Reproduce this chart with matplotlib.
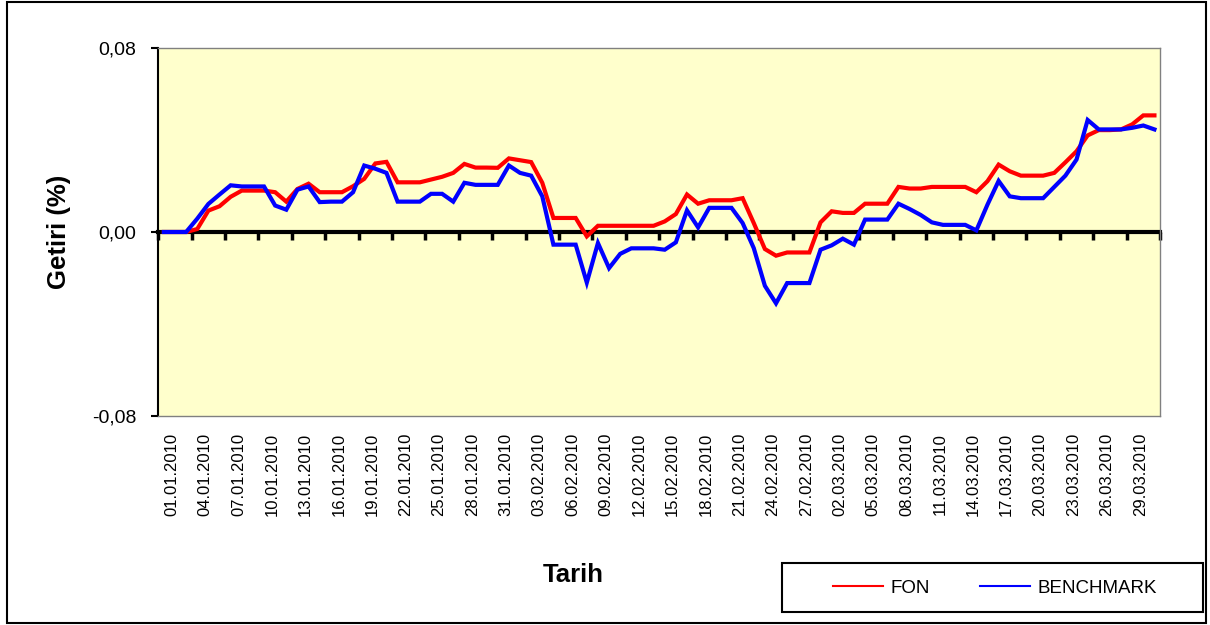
import numpy as np
import pandas as pd
import matplotlib
matplotlib.use("Agg")
import matplotlib.pyplot as plt
import matplotlib.transforms as mtransforms
from matplotlib.lines import Line2D
from matplotlib.patches import Rectangle

plt.rcParams["font.family"] = ["Liberation Sans", "DejaVu Sans"]

# --- daily categories 01.01.2010 - 31.03.2010 ---
dates = pd.date_range("2010-01-01", "2010-03-31", freq="D")
date_labels = [d.strftime("%d.%m.%Y") for d in dates]

# --- cumulative return values ---
fon = [
    0.0, 0.0, 0.0, 0.0013, 0.0093, 0.0112, 0.0153, 0.0180, 0.0180, 0.0180,
    0.0173, 0.0132, 0.0187, 0.0210, 0.0173, 0.0173, 0.0173, 0.0199, 0.0231, 0.0298,
    0.0305, 0.0216, 0.0216, 0.0216, 0.0228, 0.0240, 0.0257, 0.0296, 0.0280, 0.0280,
    0.0279, 0.0320, 0.0312, 0.0304, 0.0214, 0.0061, 0.0061, 0.0061, -0.0019, 0.0027,
    0.0027, 0.0027, 0.0027, 0.0027, 0.0027, 0.0046, 0.0078, 0.0163, 0.0123, 0.0138,
    0.0138, 0.0138, 0.0147, 0.0039, -0.0074, -0.0103, -0.0089, -0.0089, -0.0089, 0.0042,
    0.0090, 0.0083, 0.0083, 0.0123, 0.0123, 0.0123, 0.0196, 0.0189, 0.0189, 0.0196,
    0.0196, 0.0196, 0.0196, 0.0173, 0.0221, 0.0293, 0.0264, 0.0245, 0.0245, 0.0245,
    0.0257, 0.0303, 0.0351, 0.0420, 0.0443, 0.0443, 0.0446, 0.0468, 0.0507, 0.0507,
]
benchmark = [
    0.0, 0.0, 0.0, 0.0058, 0.0122, 0.0163, 0.0203, 0.0198, 0.0198, 0.0198,
    0.0115, 0.0097, 0.0184, 0.0198, 0.0130, 0.0132, 0.0132, 0.0173, 0.0289, 0.0275,
    0.0257, 0.0132, 0.0132, 0.0132, 0.0166, 0.0166, 0.0132, 0.0214, 0.0205, 0.0205,
    0.0205, 0.0289, 0.0257, 0.0245, 0.0155, -0.0055, -0.0055, -0.0055, -0.0220, -0.0048,
    -0.0157, -0.0095, -0.0071, -0.0071, -0.0071, -0.0077, -0.0045, 0.0094, 0.0020, 0.0105,
    0.0105, 0.0105, 0.0039, -0.0070, -0.0234, -0.0310, -0.0222, -0.0222, -0.0222, -0.0077,
    -0.0058, -0.0029, -0.0055, 0.0054, 0.0054, 0.0054, 0.0123, 0.0100, 0.0074, 0.0042,
    0.0031, 0.0031, 0.0031, 0.0007, 0.0119, 0.0222, 0.0155, 0.0147, 0.0147, 0.0147,
    0.0196, 0.0245, 0.0315, 0.0487, 0.0446, 0.0446, 0.0446, 0.0453, 0.0463, 0.0446,
]

x = np.arange(len(dates))

fig = plt.figure(figsize=(12.1, 6.25), dpi=100)
ax = fig.add_axes([158.3 / 1210, 1 - 416 / 625, (1160 - 158.3) / 1210, (416 - 48) / 625])
ax.set_facecolor("#FFFFCC")

ax.plot(x, fon, color="#FF0000", lw=3, solid_joinstyle="miter", zorder=3)
ax.plot(x, benchmark, color="#0000FF", lw=3, solid_joinstyle="miter", zorder=3)

ax.set_xlim(-0.5, len(dates) - 0.5)
ax.set_ylim(-0.08, 0.08)

# y axis
ax.set_yticks([-0.08, 0.0, 0.08])
ax.set_yticklabels(["-0,08", "0,00", "0,08"], fontsize=14)
ax.tick_params(axis="y", direction="out", length=5, width=1.5, pad=11)

# date labels at the bottom
ax.set_xticks(x[::3])
ax.set_xticklabels(date_labels[::3], rotation=90, fontsize=12)
ax.tick_params(axis="x", length=0, pad=12)
shift = mtransforms.ScaledTranslation(8 / 100, 0, fig.dpi_scale_trans)
for lbl in ax.get_xticklabels():
    lbl.set_transform(lbl.get_transform() + shift)

for s in ["top", "right", "bottom"]:
    ax.spines[s].set_color("#808080")
    ax.spines[s].set_linewidth(1)
ax.spines["left"].set_color("black")
ax.spines["left"].set_linewidth(1.5)

# zero axis line with tick marks between categories
zax = ax.secondary_xaxis(0.5)
zax.set_xticks(np.arange(-0.5, len(dates), 3))
zax.set_xticklabels([])
zax.tick_params(axis="x", which="both", top=True, bottom=False, direction="in",
                length=6, width=2.5, color="black")
for s in ["top", "bottom"]:
    zax.spines[s].set_linewidth(3)
    zax.spines[s].set_color("black")
zax.set_zorder(1)

fig.text(59 / 1210, 1 - 232 / 625, "Getiri (%)", rotation=90, fontsize=18.5,
         fontweight="bold", ha="center", va="center")
fig.text(573 / 1210, 1 - 575 / 625, "Tarih", fontsize=18.5, fontweight="bold",
         ha="center", va="center")

# legend
handles = [Line2D([], [], color="#FF0000", lw=1.5), Line2D([], [], color="#0000FF", lw=1.5)]
fig.legend(handles, ["FON", "BENCHMARK"], loc="center", ncol=2, frameon=False,
           bbox_to_anchor=(995 / 1210, 1 - 588 / 625), fontsize=13.5,
           handlelength=2.67, handletextpad=0.4, columnspacing=2.7)
fig.patches.append(Rectangle((782 / 1210, 1 - 612 / 625), 421 / 1210, 49 / 625,
                             transform=fig.transFigure, fill=False, ec="black", lw=1.5))

# outer border
fig.patches.append(Rectangle((7 / 1210, 2 / 625), 1199 / 1210, 621 / 625,
                             transform=fig.transFigure, fill=False, ec="black", lw=1.5))

fig.savefig("out.png", dpi=100)
